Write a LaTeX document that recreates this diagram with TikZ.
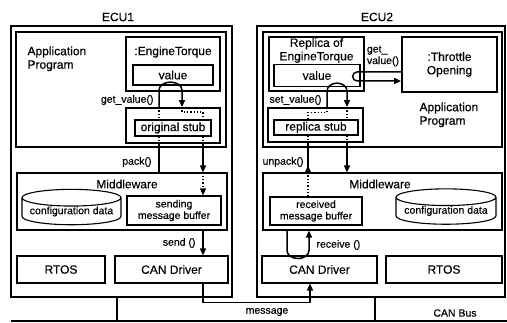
\documentclass[tikz,border=0pt]{standalone}
\usepackage{fontspec}
\setmainfont{Liberation Sans}[FakeBold=0.4]
\usetikzlibrary{arrows.meta, positioning, shapes.geometric}

\tikzset{
	box/.style={draw, line width=1.1pt, inner sep=0pt, align=center},
	obj/.style={draw, line width=1.8pt, inner sep=0pt},
	db/.style={draw, line width=1.1pt, cylinder, shape border rotate=90, aspect=0.2, inner sep=0pt},
	big/.style={font=\fontsize{12}{13.5}\selectfont},
	small/.style={font=\fontsize{10.5}{11.5}\selectfont},
	call/.style={line width=1.5pt},
	hint/.style={dotted, line width=1.3pt}
}

\begin{document}
\begin{tikzpicture}[x=1pt, y=1pt, >={Triangle[length=7pt,width=6pt]}]
	\useasboundingbox (0,0) rectangle (507,323);
	
	%Knoten ECU1
	\node (ecu1) [box, minimum width=221pt, minimum height=271pt] at (121.5,161.5) {};
	\node (ecu1t) [big] at (118,306) {ECU1};
	\node (app1) [box, minimum width=210pt, minimum height=115pt] at (121,233.5) {};
	\node (app1t) [big, anchor=north west, align=left] at (24,280) {Application\\Program};
	\node (et1) [obj, minimum width=94pt, minimum height=54pt] at (173,259) {};
	\node (et1t) [big] at (173,271) {:EngineTorque};
	\node (val1) [box, big, minimum width=80pt, minimum height=20pt] at (173,248) {value};
	\node (stub1) [obj, minimum width=94pt, minimum height=35pt] at (173,197.5) {};
	\node (ostub) [box, big, minimum width=76pt, minimum height=16pt] at (173,195) {original stub};
	\node (mw1) [box, minimum width=210pt, minimum height=57pt] at (122,121.5) {};
	\node (mw1t) [big] at (127,139) {Middleware};
	\node (cfg1) [db, small, minimum width=99pt, minimum height=28pt] at (71.5,111.5) {configuration data};
	\node (sbuf) [box, small, minimum width=94pt, minimum height=29pt] at (174,112.5) {sending\\message buffer};
	\node (rtos1) [box, big, minimum width=88pt, minimum height=27pt] at (61,53.5) {RTOS};
	\node (can1) [box, big, minimum width=113pt, minimum height=27pt] at (171.5,53.5) {CAN Driver};
	
	%Knoten ECU2
	\node (ecu2) [box, minimum width=248pt, minimum height=271pt] at (381,161.5) {};
	\node (ecu2t) [big] at (377,306) {ECU2};
	\node (app2) [box, minimum width=239pt, minimum height=115pt] at (382.5,233.5) {};
	\node (app2t) [big, anchor=north west, align=left] at (416,224) {Application\\Program};
	\node (rep) [obj, minimum width=95pt, minimum height=54pt] at (316.5,259) {};
	\node (rept) [big, align=center] at (316.5,272.5) {Replica of\\EngineTorque};
	\node (val2) [box, big, minimum width=86pt, minimum height=22pt] at (317,247.5) {value};
	\node (thr) [obj, big, align=center, minimum width=95pt, minimum height=55pt] at (449.5,258.5) {:Throttle\\Opening};
	\node (stub2) [obj, minimum width=95pt, minimum height=34pt] at (315.5,198) {};
	\node (rstub) [box, big, minimum width=84pt, minimum height=15pt] at (316,195.5) {replica stub};
	\node (mw2) [box, minimum width=239pt, minimum height=57pt] at (382.5,121.5) {};
	\node (mw2t) [big] at (380,139) {Middleware};
	\node (rbuf) [box, small, minimum width=92pt, minimum height=28pt] at (316,112) {received\\message buffer};
	\node (cfg2) [db, small, minimum width=100pt, minimum height=27pt] at (446,112) {configuration data};
	\node (can2) [box, big, minimum width=115pt, minimum height=27pt] at (319.5,53.5) {CAN Driver};
	\node (rtos2) [box, big, minimum width=116pt, minimum height=27pt] at (444,53.5) {RTOS};
	
	%Beschriftungen
	\node (getv1) [small, anchor=east] at (157,223) {get\_value()};
	\node (pack1) [small, anchor=east] at (155,161) {pack()};
	\node (send1) [small, anchor=east] at (199,80) {send ()};
	\node (getv2) [small, align=left] at (383,267) {get\_\\value()};
	\node (setv2) [small, anchor=east] at (325,223) {set\_value()};
	\node (unp2) [small, anchor=east] at (307,161) {unpack()};
	\node (recv2) [small, anchor=west] at (313,78) {receive ()};
	\node (msg) [small] at (267,11) {message};
	\node (bus) [small] at (455,10) {CAN Bus};
	
	%Hilfspunkte
	\coordinate (g1l) at (159,0);
	\coordinate (g1r) at (182,0);
	\coordinate (p1r) at (203,0);
	\coordinate (u2) at (308,0);
	\coordinate (s2l) at (327,0);
	\coordinate (s2r) at (347,0);
	\coordinate (r2l) at (287,0);
	\coordinate (r2r) at (309,0);
	\coordinate (m2) at (310,0);
	\coordinate (tg1) at (0,251);
	\coordinate (tg2) at (0,242);
	\coordinate (busl) at (11,2);
	\coordinate (busr) at (507,2);
	\coordinate (tap1) at (117,2);
	\coordinate (tap2) at (375,2);
	
	%Kanten ECU1
	\draw[call,->] (stub1.north -| g1l) -- ++(0,17) arc[start angle=180, end angle=0, x radius=11.5, y radius=8] -- (stub1.north -| g1r);
	\draw[hint] (stub1.north -| g1l) -- (ostub.north -| g1l);
	\draw[hint] (stub1.north -| g1r) -- ++(0,-5) -| (ostub.north -| p1r);
	\draw[hint] (ostub.south -| g1l) -- (stub1.south -| g1l);
	\draw[hint] (ostub.south -| p1r) -- (stub1.south -| p1r);
	\draw[call] (stub1.south -| g1l) -- (mw1.north -| g1l);
	\draw[call,->] (stub1.south -| p1r) -- (mw1.north -| p1r);
	\draw[hint,->] (mw1.north -| p1r) -- (sbuf.north -| p1r);
	\draw[call,->] (mw1.south -| p1r) -- (can1.north -| p1r);
	
	%Kanten ECU2
	\draw[call,->] (thr.west |- tg1) -- ++(-44,0) arc[start angle=90, end angle=270, radius=4.5] -- (thr.west |- tg2);
	\draw[call,->] (stub2.north -| s2l) -- ++(0,16) arc[start angle=180, end angle=0, x radius=10, y radius=8] -- (stub2.north -| s2r);
	\draw[hint] (stub2.north -| s2r) -- (rstub.north -| s2r);
	\draw[hint] (rstub.north -| u2) -- ++(0,7) -| (stub2.north -| s2l);
	\draw[hint] (rstub.south -| u2) -- (stub2.south -| u2);
	\draw[hint] (rstub.south -| s2r) -- (stub2.south -| s2r);
	\draw[call] (mw2.north -| u2) -- (stub2.south -| u2);
	\draw[call,->] (mw2.north -| u2) -- ++(0,7);
	\draw[call,->] (stub2.south -| s2r) -- (mw2.north -| s2r);
	\draw[hint] (rbuf.north -| u2) -- (mw2.north -| u2);
	\draw[call,->] (mw2.south -| r2l) -- ++(0,-20) arc[start angle=180, end angle=360, x radius=11, y radius=8] -- (mw2.south -| r2r);
	
	%Bus
	\draw[call,->] (can1.south -| p1r) -- ++(0,-19) -| (can2.south -| m2);
	\draw[call] (busl) -- (busr);
	\draw[call] (ecu1.south -| tap1) -- (tap1);
	\draw[call] (ecu2.south -| tap2) -- (tap2);
	
\end{tikzpicture}
\end{document}
